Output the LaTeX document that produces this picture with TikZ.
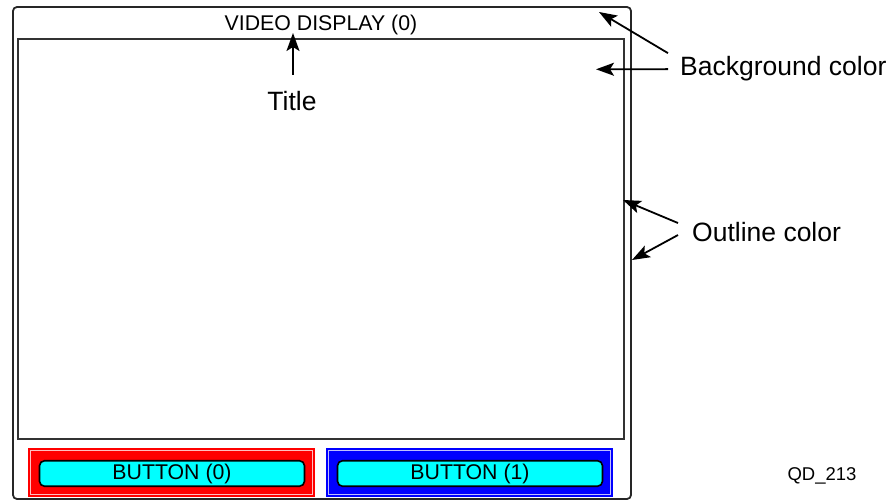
\documentclass[tikz,border=0pt]{standalone}
\usepackage{fontspec}
\setmainfont{Liberation Sans}
\usetikzlibrary{arrows.meta}
\definecolor{btncyan}{RGB}{0,255,255}
\definecolor{btnred}{RGB}{255,0,0}
\definecolor{btnblue}{RGB}{0,0,255}

\begin{document}
\begin{tikzpicture}[x=1pt, y=-1pt,
  lbl/.style={anchor=base west, inner sep=0pt, font=\fontsize{26.5}{30}\selectfont},
  arr/.style={-{Stealth[length=18pt,width=13pt,inset=4pt]}, line width=1.8pt},
  btnframe/.style={rectangle, fill=#1, draw=#1, double=white!75!#1, double distance=1pt, line width=2pt, minimum width=282pt, minimum height=44pt, inner sep=0pt},
  btn/.style={rectangle, rounded corners=5pt, fill=btncyan, draw=black, line width=1.6pt, minimum width=265pt, minimum height=25.5pt, inner sep=0pt, font=\fontsize{21.3}{24}\selectfont}]
\useasboundingbox (0,0) rectangle (894,502);

% display window
\node[draw=black!85, line width=1.8pt, rounded corners=4pt, minimum width=618pt, minimum height=492pt, inner sep=0pt] (panel) at (322,253) {};
\node[draw=black!80, line width=2pt, minimum width=606pt, minimum height=400pt, inner sep=0pt] (screen) at (321,239) {};
\node[anchor=base, inner sep=0pt, font=\fontsize{21.3}{24}\selectfont] (title) at (321,31) {VIDEO DISPLAY (0)};

% buttons
\node[btnframe=btnred] (frame0) at (171.5,472.5) {};
\node[btn] (button0) at (172,473.5) {BUTTON (0)};
\node[btnframe=btnblue] (frame1) at (469.5,472.5) {};
\node[btn] (button1) at (470,473.5) {BUTTON (1)};

% labels
\node[anchor=base, inner sep=0pt, font=\fontsize{26.5}{30}\selectfont] (ttl) at (292,111) {Title};
\node[lbl] (bg) at (680,76) {Background color};
\node[lbl] (ol) at (692,242) {Outline color};
\node[anchor=base, inner sep=0pt, font=\fontsize{18.5}{22}\selectfont] (code) at (822,480) {QD\_213};

\coordinate (ttltip) at (293,33);
\coordinate (bgtop) at (599,12);
\coordinate (bgin) at (596,69.3);
\coordinate (olin) at (623,200);
\coordinate (olout) at (632,260);

\draw[arr] ([xshift=1pt,yshift=17pt]ttl.north) -- (ttltip);
\draw[arr] ([xshift=-12pt,yshift=16pt]bg.west) -- (bgtop);
\draw[arr] ([xshift=-12pt]bg.west) -- (bgin);
\draw[arr] ([xshift=-14pt,yshift=9.5pt]ol.west) -- (olin);
\draw[arr] ([xshift=-14pt,yshift=-2.5pt]ol.west) -- (olout);
\end{tikzpicture}
\end{document}
